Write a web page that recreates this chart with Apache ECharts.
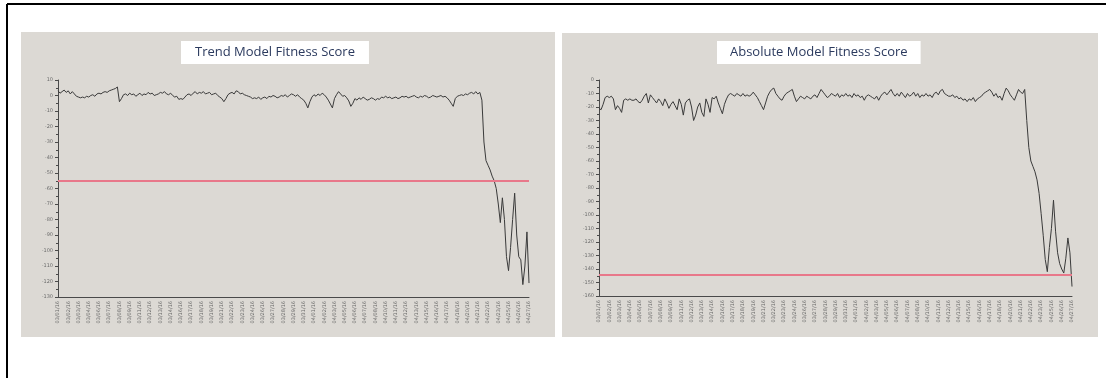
<!DOCTYPE html>
<html>
<head>
<meta charset="utf-8">
<style>
  html, body { margin: 0; padding: 0; background: #ffffff; }
  #chart { width: 1106px; height: 378px; }
</style>
<script src="https://cdn.jsdelivr.net/npm/echarts@6/dist/echarts.min.js"></script>
</head>
<body>
<div id="chart"></div>
<script>
// Trend model fitness score (one value per sample)
const trendScore = [
  3.0, 1.5, 2.5, 3.5, 2.0, 3.0, 1.0, 2.5, 1.0, -0.5,
  -1.0, -1.5, -1.0, -1.5, -0.5, -1.0, 0.0, 0.5, -0.5, 1.0,
  1.5, 1.0, 2.0, 2.5, 2.0, 3.0, 3.5, 4.0, 4.5, 5.5,
  -4.0, -2.0, 0.5, 1.0, 0.0, 1.5, 0.5, 1.0, -0.5, 0.5,
  1.5, 0.0, 1.0, 0.5, 2.0, 1.0, 1.5, 0.0, 0.5, 1.0,
  2.0, 1.5, 2.5, 1.0, 0.5, 1.5, 0.0, -1.0, -0.5, -2.5,
  -2.0, -2.5, -1.0, 0.5, 1.0, 0.0, 1.5, 2.5, 1.0, 2.0,
  1.5, 2.5, 1.0, 1.5, 2.0, 0.5, 1.0, 1.5, 0.0, -1.0,
  -2.0, -4.0, -2.0, 0.5, 1.5, 2.0, 1.0, 3.0, 2.5, 1.0,
  1.5, 0.5, 0.0, -0.5, -1.0, -2.0, -1.5, -2.0, -1.0, -2.5,
  -1.5, -1.0, -2.0, -0.5, -1.0, 0.0, -0.5, -1.5, -1.0, 0.0,
  -0.5, 0.5, -1.0, 0.0, 1.0, 0.5, -0.5, 0.5, -1.0, -2.0,
  -3.0, -5.0, -8.0, -4.0, -1.0, 0.5, -0.5, 1.0, 0.0, 1.5,
  0.5, -1.0, -3.0, -5.5, -8.0, -2.0, 0.5, 2.5, 1.0, -0.5,
  0.0, -1.5, -3.5, -7.0, -5.0, -2.0, -3.0, -1.5, -2.5, -1.0,
  -2.0, -3.0, -2.5, -1.5, -2.0, -3.0, -2.0, -2.5, -1.0, -1.5,
  -0.5, -1.5, -1.0, -2.0, -1.5, -1.0, -2.0, -1.5, -0.5, -1.0,
  -0.5, -1.5, -1.0, -0.5, 0.0, -1.0, -1.5, -0.5, -1.0, 0.0,
  -0.5, -1.5, -1.0, 0.0, -0.5, -1.0, -0.5, 0.0, -1.0, -0.5,
  -1.5, -3.0, -5.0, -7.0, -2.0, -0.5, 0.0, 0.5, 0.0, 1.0,
  0.5, 1.5, 2.0, 1.0, 2.5, 1.0,
  2.0, -3.0, -30, -42, -45, -48, -52, -55, -60, -70,
  -82, -66, -80, -104, -113, -98, -80, -63, -90, -104,
  -106, -122, -110, -88, -121
];

// Absolute model fitness score (one value per sample)
const absoluteScore = [
  -21, -22, -18, -13, -12, -13, -12, -14, -22, -19,
  -21, -24, -15, -14, -15, -14, -15, -15, -14, -16,
  -17, -15, -12, -10, -17, -11, -13, -15, -17, -14,
  -16, -19, -14, -17, -21, -18, -16, -19, -22, -14,
  -18, -26, -17, -15, -14, -20, -30, -26, -20, -17,
  -24, -27, -14, -18, -24, -13, -14, -12, -17, -21,
  -25, -18, -14, -11, -10, -11, -12, -10, -11, -12,
  -10, -12, -11, -12, -11, -9, -11, -13, -16, -19,
  -22, -17, -12, -9, -7, -6, -10, -12, -14, -15,
  -12, -10, -9, -8, -7, -12, -16, -14, -12, -13,
  -14, -12, -13, -14, -12, -11, -13, -10, -7, -9,
  -11, -13, -12, -10, -11, -12, -10, -13, -11, -12,
  -10, -12, -11, -13, -10, -12, -11, -13, -12, -15,
  -12, -11, -12, -13, -14, -12, -15, -12, -10, -9,
  -11, -9, -7, -10, -12, -10, -12, -9, -11, -13,
  -10, -12, -11, -9, -12, -10, -13, -11, -12, -10,
  -12, -11, -13, -10, -9, -11, -8, -7, -10, -11,
  -12, -12, -11, -13, -12, -14, -13, -15, -14, -16,
  -14, -15, -13, -16, -14, -13, -12, -10, -9, -8,
  -7, -9, -12, -10, -13, -12, -15, -10, -6, -8,
  -11, -13, -15, -11, -7, -9,
  -10, -7, -30, -50, -60, -64, -68, -74, -84, -99,
  -115, -133, -142, -124, -110, -89, -112, -128, -136, -140,
  -143, -132, -117, -128, -153
];

// Alarm thresholds drawn as horizontal reference lines
const trendThreshold = -55;
const absoluteThreshold = -144;

// Chart titles
const trendTitle = 'Trend Model Fitness Score';
const absoluteTitle = 'Absolute Model Fitness Score';

// Sample dates used as category labels (one sample per six hours)
const sampleStart = new Date(2016, 2, 1, 0, 0);
const sampleStepHours = 6;
const pad2 = n => (n < 10 ? '0' : '') + n;
const timeLabels = trendScore.map((_, i) => {
  const d = new Date(sampleStart.getTime() + i * sampleStepHours * 3600 * 1000);
  return pad2(d.getMonth() + 1) + '/' + pad2(d.getDate()) + '/' + String(d.getFullYear()).slice(2);
});

const chart = echarts.init(document.getElementById('chart'), null, { renderer: 'canvas' });

const axisGray = '#4a4a4a';
const labelGray = '#6b6b6b';
const panelGray = '#dcd9d4';
const lineColor = '#3a3a3a';
const thresholdColor = '#e8788a';

function xAxisFor(gridIndex) {
  return {
    type: 'category',
    gridIndex: gridIndex,
    data: timeLabels,
    boundaryGap: false,
    axisLine: { onZero: false, lineStyle: { color: axisGray, width: 1 } },
    axisTick: { show: false },
    axisLabel: {
      rotate: 90,
      interval: 4,
      fontSize: 5,
      color: labelGray,
      margin: 4,
      fontFamily: 'DejaVu Sans'
    },
    splitLine: { show: false }
  };
}

function yAxisFor(gridIndex, min, max) {
  return {
    type: 'value',
    gridIndex: gridIndex,
    min: min,
    max: max,
    interval: 10,
    axisLine: { show: true, lineStyle: { color: axisGray, width: 1 } },
    axisTick: { show: true, length: 3, lineStyle: { color: axisGray } },
    minorTick: { show: true, splitNumber: 2, length: 2, lineStyle: { color: axisGray } },
    axisLabel: { fontSize: 5, color: labelGray, margin: 5, fontFamily: 'DejaVu Sans' },
    splitLine: { show: false }
  };
}

function scoreSeries(index, data, threshold) {
  return {
    type: 'line',
    xAxisIndex: index,
    yAxisIndex: index,
    data: data,
    showSymbol: false,
    symbol: 'none',
    lineStyle: { color: lineColor, width: 1 },
    silent: true,
    markLine: {
      silent: true,
      symbol: 'none',
      label: { show: false },
      lineStyle: { color: thresholdColor, width: 2, type: 'solid' },
      data: [{ yAxis: threshold }]
    }
  };
}

chart.setOption({
  animation: false,
  backgroundColor: '#ffffff',
  graphic: [
    // outer frame
    { type: 'line', shape: { x1: 7, y1: 4, x2: 1106, y2: 4 }, style: { stroke: '#000', lineWidth: 2 }, z: -1 },
    { type: 'line', shape: { x1: 7, y1: 4, x2: 7, y2: 378 }, style: { stroke: '#000', lineWidth: 2 }, z: -1 },
    // panel backgrounds
    { type: 'rect', shape: { x: 21, y: 32, width: 534, height: 305 }, style: { fill: panelGray }, z: -1 },
    { type: 'rect', shape: { x: 562, y: 33, width: 536, height: 304 }, style: { fill: panelGray }, z: -1 }
  ],
  title: [
    {
      text: trendTitle,
      left: 181,
      top: 41,
      backgroundColor: '#ffffff',
      padding: [5, 14, 5, 14],
      textStyle: { fontFamily: 'Open Sans', fontSize: 13, fontWeight: 'normal', color: '#2b3a5e' }
    },
    {
      text: absoluteTitle,
      left: 717,
      top: 41,
      backgroundColor: '#ffffff',
      padding: [5, 13, 5, 13],
      textStyle: { fontFamily: 'Open Sans', fontSize: 13, fontWeight: 'normal', color: '#2b3a5e' }
    }
  ],
  grid: [
    { left: 58, top: 80, width: 471, height: 217 },
    { left: 599, top: 80, width: 473, height: 216 }
  ],
  xAxis: [xAxisFor(0), xAxisFor(1)],
  yAxis: [yAxisFor(0, -130, 10), yAxisFor(1, -160, 0)],
  series: [
    scoreSeries(0, trendScore, trendThreshold),
    scoreSeries(1, absoluteScore, absoluteThreshold)
  ]
});
</script>
</body>
</html>
